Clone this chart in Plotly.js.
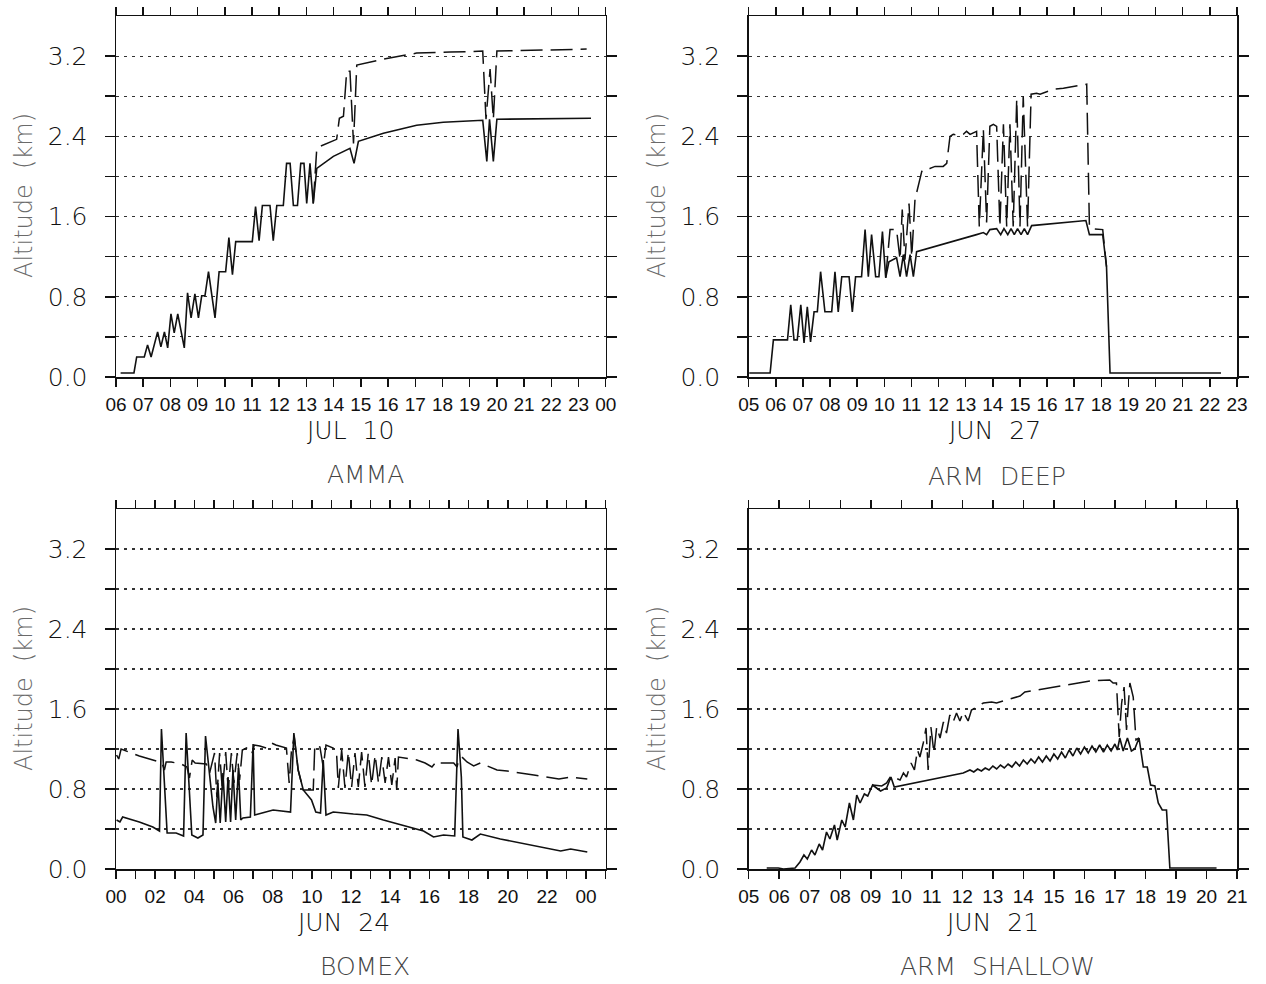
<!DOCTYPE html>
<html>
<head>
<meta charset="utf-8">
<script src="https://cdn.plot.ly/plotly-3.0.1.min.js"></script>
<style>
  html, body { margin: 0; padding: 0; background: #fff; }
  #chart { width: 1266px; height: 984px; }
</style>
</head>
<body>
<div id="chart"></div>
<script>
// AMMA, JUL 10 (hours, km)
var ammaSolidT = [6.17, 6.66, 6.76, 7.04, 7.16, 7.29, 7.53, 7.65, 7.78, 7.90, 8.02, 8.14, 8.27, 8.51, 8.63, 8.76, 8.90, 9.03, 9.15, 9.27,
  9.40, 9.64, 9.79, 10.03, 10.15, 10.28, 10.40, 11.01, 11.13, 11.26, 11.38, 11.66, 11.78, 11.91, 12.15, 12.27, 12.40, 12.52, 12.67, 12.79,
  12.91, 13.01, 13.13, 13.25, 13.38, 13.99, 14.60, 14.75, 14.91, 15.83, 17.05, 18.03, 19.48, 19.63, 19.73, 19.87, 20.00, 23.46];
var ammaSolidZ = [0.04, 0.04, 0.20, 0.20, 0.32, 0.20, 0.45, 0.30, 0.45, 0.29, 0.63, 0.44, 0.63, 0.29, 0.84, 0.59, 0.83, 0.59, 0.81, 0.81,
  1.05, 0.59, 1.05, 1.05, 1.39, 1.02, 1.35, 1.35, 1.70, 1.36, 1.71, 1.71, 1.36, 1.71, 1.71, 2.13, 2.13, 1.71, 1.71, 2.13,
  2.13, 1.73, 2.13, 1.73, 2.08, 2.20, 2.28, 2.13, 2.35, 2.43, 2.51, 2.54, 2.56, 2.15, 2.57, 2.15, 2.57, 2.58];
var ammaDashT = [13.25, 13.38, 13.50, 14.11, 14.21, 14.36, 14.48, 14.60, 14.73, 14.85, 15.83, 17.05, 18.28, 19.48, 19.60, 19.75, 19.87, 20.00, 23.30];
var ammaDashZ = [1.73, 2.28, 2.30, 2.37, 2.58, 2.60, 3.05, 3.05, 2.33, 3.11, 3.17, 3.23, 3.24, 3.25, 2.57, 3.07, 2.57, 3.25, 3.27];

// ARM DEEP, JUN 27
var deepSolidT = [5.02, 5.79, 5.91, 6.43, 6.55, 6.67, 6.79, 6.92, 7.04, 7.16, 7.28, 7.41, 7.53, 7.65, 7.81, 8.06, 8.18, 8.30, 8.43, 8.70,
  8.82, 8.94, 9.16, 9.29, 9.41, 9.53, 9.68, 9.80, 9.93, 10.05, 10.17, 10.45, 10.58, 10.70, 10.82, 10.95, 11.07, 11.19, 13.40, 13.65,
  13.77, 13.89, 14.14, 14.29, 14.41, 14.55, 14.67, 14.79, 14.91, 15.04, 15.16, 15.28, 15.43, 17.43, 17.56, 18.05, 18.19, 18.32, 22.41];
var deepSolidZ = [0.04, 0.04, 0.37, 0.37, 0.72, 0.37, 0.37, 0.72, 0.34, 0.70, 0.35, 0.65, 0.65, 1.05, 0.65, 0.65, 1.05, 0.65, 1.00, 1.00,
  0.65, 1.00, 1.00, 1.47, 1.00, 1.42, 1.00, 1.00, 1.45, 0.99, 1.15, 1.19, 1.00, 1.22, 1.00, 1.22, 1.00, 1.25, 1.42, 1.44,
  1.42, 1.47, 1.48, 1.42, 1.48, 1.42, 1.48, 1.42, 1.48, 1.42, 1.48, 1.42, 1.51, 1.56, 1.42, 1.42, 1.10, 0.04, 0.04];
var deepDashT = [10.05, 10.21, 10.45, 10.58, 10.66, 10.76, 10.91, 11.01, 11.13, 11.38, 11.50, 11.68, 11.87, 12.17, 12.30, 12.42, 12.54, 12.79, 12.91, 13.03,
  13.16, 13.40, 13.50, 13.65, 13.77, 13.89, 14.02, 14.14, 14.26, 14.39, 14.51, 14.63, 14.75, 14.88, 15.00, 15.12, 15.28, 15.41, 15.61, 15.74,
  16.23, 16.60, 17.46, 17.56, 17.64, 18.05, 18.19];
var deepDashZ = [0.99, 1.47, 1.47, 1.17, 1.67, 1.17, 1.73, 1.20, 1.77, 2.05, 2.08, 2.08, 2.10, 2.10, 2.13, 2.40, 2.42, 2.41, 2.42, 2.45,
  2.42, 2.45, 1.50, 2.47, 1.54, 2.50, 2.52, 2.50, 1.50, 2.52, 1.50, 2.52, 1.50, 2.77, 1.50, 2.80, 1.50, 2.82, 2.83, 2.82,
  2.87, 2.88, 2.92, 1.50, 1.48, 1.47, 1.10];

// BOMEX, JUN 24
var bomexSolidT = [0.03, 0.20, 0.34, 1.19, 1.88, 2.22, 2.32, 2.47, 2.61, 3.07, 3.45, 3.58, 3.75, 3.87, 4.18, 4.44, 4.57, 4.78, 4.95, 5.09,
  5.20, 5.32, 5.46, 5.60, 5.72, 5.85, 5.97, 6.11, 6.25, 6.37, 6.48, 6.86, 7.00, 7.08, 8.02, 8.91, 9.08, 9.30, 9.56, 9.98,
  10.20, 10.44, 10.58, 10.72, 11.09, 12.12, 12.80, 13.65, 15.44, 15.70, 16.21, 16.72, 17.29, 17.46, 17.63, 17.71, 18.17, 18.60, 19.62, 22.70,
  23.21, 24.06];
var bomexSolidZ = [0.49, 0.47, 0.52, 0.47, 0.42, 0.38, 1.40, 0.86, 0.36, 0.36, 0.33, 1.36, 0.79, 0.34, 0.31, 0.34, 1.33, 0.96, 0.62, 0.46,
  0.86, 0.46, 0.96, 0.47, 0.92, 0.47, 0.99, 0.49, 1.01, 0.49, 0.51, 0.52, 1.25, 0.54, 0.59, 0.57, 1.36, 0.99, 0.79, 0.69,
  0.57, 0.56, 1.09, 0.54, 0.57, 0.55, 0.54, 0.49, 0.40, 0.38, 0.32, 0.34, 0.33, 1.40, 0.92, 0.32, 0.29, 0.35, 0.30, 0.18,
  0.20, 0.17];
var bomexDashT = [0.03, 0.14, 0.26, 1.19, 2.22, 2.35, 2.47, 2.56, 2.82, 3.33, 3.62, 3.75, 3.89, 4.04, 4.61, 4.78, 5.03, 5.15, 5.29, 5.43,
  5.60, 5.73, 5.89, 6.02, 6.19, 6.31, 6.45, 6.66, 6.86, 6.96, 7.06, 7.34, 7.68, 7.94, 8.16, 8.45, 8.70, 8.84, 8.96, 9.10,
  9.30, 9.56, 10.07, 10.15, 10.41, 10.58, 10.72, 11.09, 11.26, 11.35, 11.52, 11.69, 11.86, 12.03, 12.20, 12.37, 12.54, 12.71, 12.88, 13.05,
  13.23, 13.40, 13.57, 13.74, 13.91, 14.08, 14.25, 14.33, 14.42, 15.36, 15.78, 16.13, 16.38, 16.55, 17.24, 17.41, 17.49, 17.66, 17.92, 18.26,
  18.60, 19.45, 19.97, 21.33, 22.61, 23.21, 24.06];
var bomexDashZ = [1.14, 1.10, 1.20, 1.13, 1.07, 1.06, 0.99, 1.07, 1.07, 1.05, 1.02, 0.91, 1.09, 1.06, 1.05, 0.96, 1.16, 0.72, 1.16, 0.79,
  1.17, 0.79, 1.16, 0.86, 1.16, 0.89, 1.19, 1.21, 1.22, 1.16, 1.24, 1.23, 1.21, 1.26, 1.24, 1.22, 1.21, 0.86, 1.19, 1.32,
  0.99, 0.79, 0.79, 1.24, 1.22, 1.02, 1.24, 1.21, 1.16, 0.81, 1.19, 0.81, 1.17, 0.82, 1.16, 0.82, 1.17, 0.82, 1.16, 0.84,
  1.14, 0.86, 1.12, 0.86, 1.12, 0.84, 1.11, 0.79, 1.12, 1.09, 1.06, 1.02, 1.08, 1.06, 1.06, 1.02, 1.09, 1.12, 1.07, 1.03,
  1.06, 0.99, 0.98, 0.94, 0.90, 0.92, 0.90];

// ARM SHALLOW, JUN 21
var shalSolidT = [5.59, 5.97, 6.14, 6.52, 6.68, 6.81, 6.92, 7.06, 7.17, 7.31, 7.42, 7.55, 7.66, 7.81, 7.90, 8.05, 8.16, 8.30, 8.43, 8.54,
  8.65, 8.79, 8.90, 9.06, 9.19, 9.32, 9.52, 9.66, 9.77, 10.94, 12.03,
  12.250, 12.375, 12.500, 12.625, 12.750, 12.875, 13.000, 13.125, 13.250, 13.375, 13.500, 13.625, 13.750, 13.875, 14.000, 14.125, 14.250, 14.375, 14.500, 14.625,
  14.750, 14.875, 15.000, 15.125, 15.250, 15.375, 15.500, 15.625, 15.750, 15.875, 16.000, 16.125, 16.250, 16.375, 16.500, 16.625, 16.750, 16.875, 17.000, 17.08,
  17.16, 17.27, 17.41, 17.54, 17.65, 17.79, 17.93, 18.06, 18.17, 18.31, 18.42, 18.55, 18.69, 18.80, 19.24, 20.33];
var shalSolidZ = [0.01, 0.01, 0.00, 0.01, 0.07, 0.14, 0.10, 0.19, 0.14, 0.25, 0.19, 0.37, 0.30, 0.44, 0.29, 0.49, 0.42, 0.66, 0.49, 0.74,
  0.66, 0.75, 0.73, 0.84, 0.81, 0.78, 0.81, 0.92, 0.82, 0.89, 0.96,
  0.99, 0.97, 1.00, 0.98, 1.01, 0.99, 1.03, 1.00, 1.04, 1.01, 1.05, 1.02, 1.07, 1.03, 1.09, 1.05, 1.10, 1.06, 1.12, 1.07,
  1.13, 1.08, 1.15, 1.10, 1.17, 1.11, 1.19, 1.13, 1.21, 1.15, 1.22, 1.16, 1.23, 1.17, 1.24, 1.17, 1.24, 1.18, 1.25, 1.19,
  1.31, 1.18, 1.31, 1.18, 1.20, 1.31, 1.02, 1.02, 0.84, 0.83, 0.66, 0.59, 0.59, 0.01, 0.01, 0.01];
var shalDashT = [9.06, 9.36, 9.52, 9.66, 9.81, 9.96, 10.07, 10.17, 10.32, 10.43, 10.53, 10.61, 10.72, 10.81, 10.88, 10.97, 11.07, 11.16, 11.27, 11.38,
  11.48, 11.59, 11.70, 11.81, 11.92, 12.03, 12.19, 12.30, 12.52, 12.69, 12.96, 13.12, 13.45, 13.72, 13.89, 14.05, 14.43, 15.31, 16.18, 16.83,
  16.94, 17.05, 17.14, 17.22, 17.30, 17.38, 17.49, 17.60, 17.69, 17.79];
var shalDashZ = [0.84, 0.83, 0.86, 0.93, 0.91, 0.89, 0.96, 0.92, 1.06, 0.99, 1.19, 1.12, 1.26, 1.41, 0.99, 1.42, 1.16, 1.42, 1.31, 1.47,
  1.36, 1.54, 1.47, 1.56, 1.48, 1.57, 1.48, 1.59, 1.63, 1.66, 1.67, 1.66, 1.69, 1.71, 1.73, 1.77, 1.79, 1.84, 1.88, 1.89,
  1.86, 1.86, 1.32, 1.66, 1.82, 1.39, 1.86, 1.72, 1.29, 1.31];

var panelNames = ['AMMA', 'ARM DEEP', 'BOMEX', 'ARM SHALLOW'];
var dateLabels = ['JUL 10', 'JUN 27', 'JUN 24', 'JUN 21'];
var altTicks = [0, 0.4, 0.8, 1.2, 1.6, 2.0, 2.4, 2.8, 3.2];
var altTickText = ['0.0', '', '0.8', '', '1.6', '', '2.4', '', '3.2'];

var W = 1266, H = 984;
function px(x) { return x / W; }
function py(y) { return 1 - y / H; }

function hourTicks(from, to, step) {
  var vals = [], txt = [];
  for (var h = from; h <= to; h++) {
    vals.push(h);
    var show = ((h - from) % step === 0);
    var hh = h % 24;
    txt.push(show ? (hh < 10 ? '0' + hh : '' + hh) : '');
  }
  return {vals: vals, txt: txt};
}

function xAxis(domain, anchor, range, ticks) {
  return {
    domain: domain, anchor: anchor, range: range,
    tickmode: 'array', tickvals: ticks.vals, ticktext: ticks.txt,
    ticks: 'outside', ticklen: 8, tickwidth: 1.5, tickcolor: '#111',
    showline: true, linecolor: '#111', linewidth: 1.5, mirror: 'ticks',
    showgrid: false, zeroline: false,
    tickfont: {family: 'Liberation Sans', size: 19, color: '#111'},
    ticklabelstandoff: 2
  };
}

function yAxis(domain, anchor) {
  return {
    domain: domain, anchor: anchor, range: [0, 3.6],
    tickmode: 'array', tickvals: altTicks, ticktext: altTickText,
    ticks: 'outside', ticklen: 10, tickwidth: 1.5, tickcolor: '#111',
    showline: true, linecolor: '#111', linewidth: 1.5, mirror: 'ticks',
    showgrid: true, gridcolor: '#333', gridwidth: 1.2, griddash: '3px,5px',
    zeroline: false,
    tickfont: {family: 'DejaVu Sans', size: 25, color: '#111', weight: 200},
    ticklabelstandoff: 12
  };
}

function solid(x, y, xa, ya) {
  return {x: x, y: y, xaxis: xa, yaxis: ya, type: 'scatter', mode: 'lines',
    line: {color: '#111', width: 1.6}, hoverinfo: 'skip'};
}
function dashed(x, y, xa, ya) {
  return {x: x, y: y, xaxis: xa, yaxis: ya, type: 'scatter', mode: 'lines',
    line: {color: '#111', width: 1.5, dash: '22px,8px'}, hoverinfo: 'skip'};
}

var data = [
  solid(ammaSolidT, ammaSolidZ, 'x', 'y'),
  dashed(ammaDashT, ammaDashZ, 'x', 'y'),
  solid(deepSolidT, deepSolidZ, 'x2', 'y2'),
  dashed(deepDashT, deepDashZ, 'x2', 'y2'),
  solid(bomexSolidT, bomexSolidZ, 'x3', 'y3'),
  dashed(bomexDashT, bomexDashZ, 'x3', 'y3'),
  solid(shalSolidT, shalSolidZ, 'x4', 'y4'),
  dashed(shalDashT, shalDashZ, 'x4', 'y4')
];

var leftX = [px(116), px(605.7)];
var rightX = [px(748.7), px(1237)];
var topY = [py(377), py(16)];
var botY = [py(869), py(509)];

// label centres, page pixels
var dateX = [351, 995, 344, 993];
var dateY = [430, 430, 922, 922];
var nameX = [365, 997, 365, 997];
var nameY = [474, 476, 966, 966];
var ytitleX = [24, 657, 24, 657];
var ytitleY = [196, 196, 689, 689];

var annotations = [];
for (var i = 0; i < 4; i++) {
  annotations.push({
    xref: 'paper', yref: 'paper', x: px(ytitleX[i]), y: py(ytitleY[i]),
    text: 'Altitude\u00a0\u00a0(km)', textangle: -90, showarrow: false,
    xanchor: 'center', yanchor: 'middle',
    font: {family: 'DejaVu Sans', size: 24, color: '#6a6a6a', weight: 200}
  });
  annotations.push({
    xref: 'paper', yref: 'paper', x: px(dateX[i]), y: py(dateY[i]),
    text: dateLabels[i].replace(' ', '\u00a0\u00a0'), showarrow: false,
    xanchor: 'center', yanchor: 'middle',
    font: {family: 'DejaVu Sans', size: 25, color: '#111', weight: 200}
  });
  annotations.push({
    xref: 'paper', yref: 'paper', x: px(nameX[i]), y: py(nameY[i]),
    text: panelNames[i].replace(' ', '\u00a0\u00a0'), showarrow: false,
    xanchor: 'center', yanchor: 'middle',
    font: {family: 'DejaVu Sans', size: 25, color: '#444', weight: 200}
  });
}

var layout = {
  width: W, height: H,
  margin: {l: 0, r: 0, t: 0, b: 0},
  paper_bgcolor: '#fff', plot_bgcolor: '#fff',
  showlegend: false,
  xaxis: xAxis(leftX, 'y', [6, 24], hourTicks(6, 24, 1)),
  yaxis: yAxis(topY, 'x'),
  xaxis2: xAxis(rightX, 'y2', [5, 23], hourTicks(5, 23, 1)),
  yaxis2: yAxis(topY, 'x2'),
  xaxis3: xAxis(leftX, 'y3', [0, 25], hourTicks(0, 25, 2)),
  yaxis3: yAxis(botY, 'x3'),
  xaxis4: xAxis(rightX, 'y4', [5, 21], hourTicks(5, 21, 1)),
  yaxis4: yAxis(botY, 'x4'),
  annotations: annotations
};

Plotly.newPlot('chart', data, layout, {displayModeBar: false, staticPlot: true});
</script>
</body>
</html>
